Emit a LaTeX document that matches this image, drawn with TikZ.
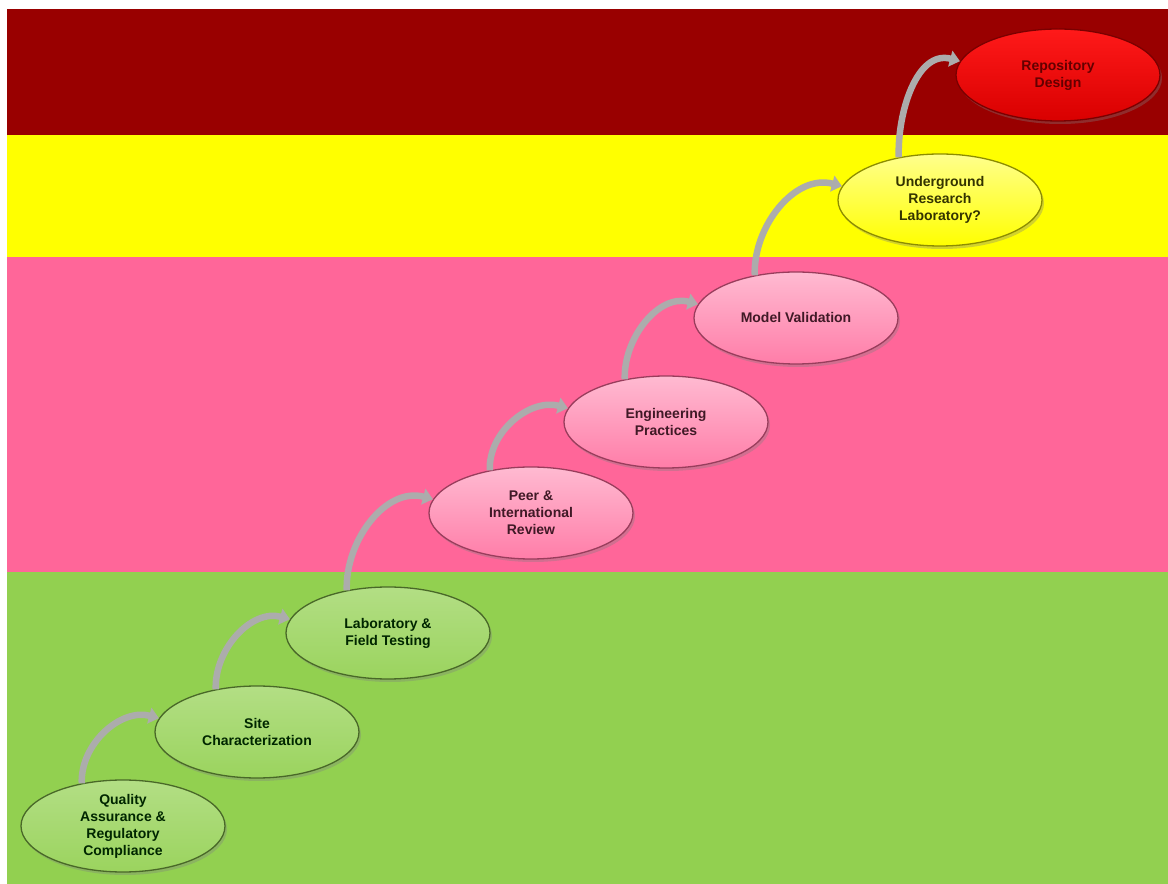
\documentclass[tikz,border=0pt]{standalone}
\usepackage{fontspec}
\setmainfont{Liberation Sans}
\usetikzlibrary{shapes.geometric,arrows.meta,shadows}

\definecolor{bandred}{HTML}{990000}
\definecolor{bandyellow}{HTML}{FFFF00}
\definecolor{bandpink}{HTML}{FF6699}
\definecolor{bandgreen}{HTML}{92D050}

\begin{document}
\begin{tikzpicture}[x=1pt,y=1pt,
    stage/.style={ellipse, minimum width=204pt, minimum height=92pt, inner sep=0pt,
        line width=1.3pt, align=center, font=\bfseries\fontsize{14}{17}\selectfont,
        drop shadow={shadow xshift=2pt, shadow yshift=-3pt, opacity=0.35}},
    greenstage/.style={stage, draw=bandgreen!50!black, top color=bandgreen!70!white,
        bottom color=bandgreen!92!white, text=green!15!black},
    pinkstage/.style={stage, draw=bandpink!60!black, top color=bandpink!45!white,
        bottom color=bandpink!85!white, text=bandpink!25!black},
    yellowstage/.style={stage, draw=bandyellow!55!black, top color=bandyellow!45!white,
        bottom color=bandyellow, text=bandyellow!20!black},
    redstage/.style={stage, draw=bandred!80!black, top color=red!90!white,
        bottom color=red!85!black, text=bandred!65!black},
    upcurve/.style={line width=6.5pt, draw=gray!65, -{Triangle[width=16pt,length=10pt]}}
  ]
    \useasboundingbox (0,0) rectangle (1168,884);
    % colour bands
    \fill[bandgreen] (7,0) rectangle (1168,312);
    \fill[bandpink] (7,312) rectangle (1168,627);
    \fill[bandyellow] (7,627) rectangle (1168,749);
    \fill[bandred] (7,749) rectangle (1168,875);

    % stages
    \node[greenstage] (qa) at (123,58) {Quality\\Assurance \&\\Regulatory\\Compliance};
    \node[greenstage] (site) at (257,152) {Site\\Characterization};
    \node[greenstage] (lab) at (388,251) {Laboratory \&\\Field Testing};
    \node[pinkstage] (peer) at (531,371) {Peer \&\\International\\Review};
    \node[pinkstage] (eng) at (666,462) {Engineering\\Practices};
    \node[pinkstage] (model) at (796,566) {Model Validation};
    \node[yellowstage] (url) at (940,684) {Underground\\Research\\Laboratory?};
    \node[redstage] (repo) at (1058,809) {Repository\\Design};

    % arrows
    \draw[upcurve] (qa.134) to[out=92,in=165] (site.172);
    \draw[upcurve] (site.134) to[out=92,in=165] (lab.172);
    \draw[upcurve] (lab.134) to[out=92,in=165] (peer.172);
    \draw[upcurve] (peer.134) to[out=92,in=165] (eng.172);
    \draw[upcurve] (eng.134) to[out=92,in=165] (model.172);
    \draw[upcurve] (model.134) to[out=92,in=165] (url.172);
    \draw[upcurve] (url.134) to[out=92,in=165] (repo.172);
\end{tikzpicture}
\end{document}
